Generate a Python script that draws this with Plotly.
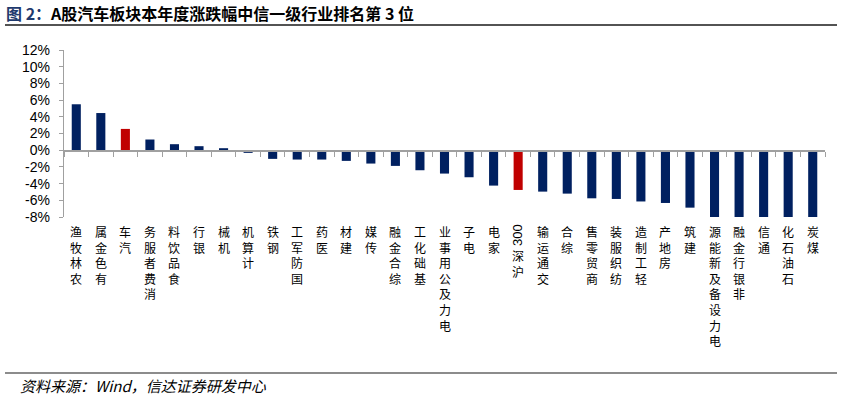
import re
import plotly.graph_objects as go

# ---------------- data ----------------
categories = ["农林牧渔", "有色金属", "汽车", "消费者服务", "食品饮料", "银行", "机械",
              "计算机", "钢铁", "国防军工", "医药", "建材", "传媒", "综合金融", "基础化工",
              "电力及公用事业", "电子", "家电", "沪深300", "交通运输", "综合", "商贸零售",
              "纺织服装", "轻工制造", "房地产", "建筑", "电力设备及新能源", "非银行金融",
              "通信", "石油石化", "煤炭"]
values = [5.5, 4.45, 2.55, 1.28, 0.72, 0.48, 0.24,
          -0.32, -1.04, -1.12, -1.12, -1.28, -1.6, -1.88, -2.4,
          -2.8, -3.24, -4.24, -4.76, -4.96, -5.2, -5.76,
          -5.84, -6.14, -6.32, -6.88, -8.6, -8.9, -9.4,
          -10.2, -11.5]
highlight = ["汽车", "沪深300"]
y_tickvals = [12, 10, 8, 6, 4, 2, 0, -2, -4, -6, -8]
y_ticktext = [f"{v}%" for v in y_tickvals]

title_prefix = "图 2："
title_main = "A股汽车板块本年度涨跌幅中信一级行业排名第 3 位"
source_text = "资料来源：Wind，信达证券研发中心"

# ---------------- style ----------------
NAVY = "#002060"
RED = "#C00000"
AXIS = "#A0A0A0"
W, H = 842, 397
ML, MR, MT, MB = 64, 17, 50, 180
PW, PH = W - ML - MR, H - MT - MB
YMIN, YMAX = -8, 12
CJK_FONT = "Noto Sans CJK SC"


def px_x(px):
    """image pixel x -> paper x"""
    return (px - ML) / PW


def px_y(py):
    """image pixel y -> paper y"""
    return (H - MB - py) / PH


colors = [RED if c in highlight else NAVY for c in categories]

fig = go.Figure()
fig.add_trace(go.Bar(
    x=categories, y=values, marker=dict(color=colors, line=dict(width=0)),
    hoverinfo="skip", showlegend=False,
))

# category labels: upright characters stacked, reading bottom-to-top
annotations = []
LINE_H = 15.6
TOP_SHIFT = -4
for cat in categories:
    tokens = re.findall(r"[0-9A-Za-z]+|.", cat)[::-1]
    offset = 0.0
    group = []

    def flush(group, offset):
        if group:
            annotations.append(dict(
                x=cat, xref="x", y=0, yref="paper", yanchor="top", xanchor="center",
                yshift=TOP_SHIFT - offset, showarrow=False, text="<br>".join(group),
                font=dict(family=CJK_FONT, size=12, color="#000000"),
            ))
            offset += LINE_H * len(group)
        return offset

    for tk in tokens:
        if re.match(r"[0-9A-Za-z]+", tk):
            offset = flush(group, offset)
            group = []
            hgt = 7.2 * len(tk)
            annotations.append(dict(
                x=cat, xref="x", y=0, yref="paper", yanchor="middle", xanchor="center",
                yshift=TOP_SHIFT - offset - hgt / 2 - 3, showarrow=False, text=tk, textangle=-90,
                font=dict(family="Liberation Sans", size=13, color="#000000"),
            ))
            offset += hgt + 2
        else:
            group.append(tk)
    flush(group, offset)

# title
annotations.append(dict(
    x=px_x(4), xref="paper", y=px_y(13), yref="paper", xanchor="left", yanchor="middle",
    showarrow=False,
    text=f"<b><span style='color:#1F3A6E'>{title_prefix}</span>{title_main}</b>",
    font=dict(family=CJK_FONT, size=16, color="#000000"),
))
# source
annotations.append(dict(
    x=px_x(18), xref="paper", y=px_y(385), yref="paper", xanchor="left", yanchor="middle",
    showarrow=False, text=f"<i>{source_text}</i>",
    font=dict(family=CJK_FONT, size=15, color="#000000"),
))

shapes = [
    dict(type="line", xref="paper", yref="paper", x0=px_x(5), x1=px_x(837),
         y0=px_y(25), y1=px_y(25), line=dict(color="#1a1a1a", width=1.5)),
    dict(type="line", xref="paper", yref="paper", x0=px_x(5), x1=px_x(837),
         y0=px_y(373), y1=px_y(373), line=dict(color="#1a1a1a", width=1.2)),
]

zero_pos = (0 - YMIN) / (YMAX - YMIN)

fig.update_layout(
    width=W, height=H,
    margin=dict(l=ML, r=MR, t=MT, b=MB),
    paper_bgcolor="white", plot_bgcolor="white",
    bargap=0.63,
    annotations=annotations, shapes=shapes,
    xaxis=dict(
        type="category", anchor="free", position=zero_pos,
        showline=True, linecolor=AXIS, linewidth=1.5,
        ticks="outside", tickson="boundaries", ticklen=5, tickcolor=AXIS, tickwidth=1,
        showticklabels=False, showgrid=False, zeroline=False, fixedrange=True,
    ),
    yaxis=dict(
        range=[YMIN, YMAX], tickvals=y_tickvals, ticktext=y_ticktext,
        showline=True, linecolor=AXIS, linewidth=1.2,
        ticks="outside", ticklen=4, tickcolor=AXIS, tickwidth=1,
        showgrid=False, zeroline=False, fixedrange=True,
        tickfont=dict(family="Liberation Sans", size=14, color="#000000"),
        ticklabelstandoff=6,
    ),
    font=dict(family=CJK_FONT),
)

fig.write_html(
    "out.html",
    config={"displayModeBar": False, "staticPlot": True},
    post_script="document.body.style.margin='0px';document.body.style.overflow='hidden';",
)
